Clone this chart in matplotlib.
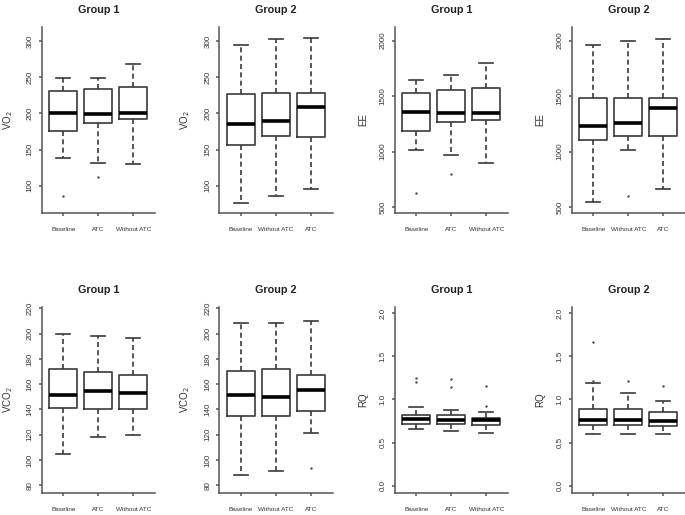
import matplotlib
matplotlib.use("Agg")
import matplotlib.pyplot as plt

plt.rcParams['font.family'] = ['Liberation Sans', 'DejaVu Sans']

# ---------------- data ----------------
cats_g1 = ["Baseline", "ATC", "Without ATC"]
cats_g2 = ["Baseline", "Without ATC", "ATC"]

vo2_g1_lo = [138, 132, 130]
vo2_g1_q1 = [176, 187, 192]
vo2_g1_med = [200, 199, 200]
vo2_g1_q3 = [231, 234, 237]
vo2_g1_hi = [249, 249, 268]
vo2_g1_fl = [[86], [112], []]

vo2_g2_lo = [76, 86, 95]
vo2_g2_q1 = [156, 169, 167]
vo2_g2_med = [186, 190, 209]
vo2_g2_q3 = [227, 228, 228]
vo2_g2_hi = [295, 303, 304]
vo2_g2_fl = [[], [], []]

ee_g1_lo = [1017, 972, 900]
ee_g1_q1 = [1188, 1267, 1288]
ee_g1_med = [1354, 1345, 1345]
ee_g1_q3 = [1531, 1552, 1570]
ee_g1_hi = [1645, 1690, 1802]
ee_g1_fl = [[624], [798], []]

ee_g2_lo = [545, 1017, 663]
ee_g2_q1 = [1101, 1137, 1137]
ee_g2_med = [1231, 1261, 1390]
ee_g2_q3 = [1486, 1486, 1486]
ee_g2_hi = [1958, 2000, 2012]
ee_g2_fl = [[], [599], []]

vco2_g1_lo = [105, 118, 120]
vco2_g1_q1 = [141.5, 140.7, 140.7]
vco2_g1_med = [151.2, 154.6, 153]
vco2_g1_q3 = [172, 169.3, 167.5]
vco2_g1_hi = [200, 198, 196.4]
vco2_g1_fl = [[], [], []]

vco2_g2_lo = [88, 91, 121]
vco2_g2_q1 = [135, 135, 139]
vco2_g2_med = [151.7, 150.1, 155.1]
vco2_g2_q3 = [170, 172, 167.5]
vco2_g2_hi = [208, 208.4, 209.8]
vco2_g2_fl = [[], [], [93.4]]

rq_g1_lo = [0.661, 0.634, 0.607]
rq_g1_q1 = [0.712, 0.712, 0.704]
rq_g1_med = [0.770, 0.758, 0.758]
rq_g1_q3 = [0.824, 0.824, 0.785]
rq_g1_hi = [0.909, 0.882, 0.859]
rq_g1_fl = [[1.246, 1.207], [1.242, 1.145], [1.16, 0.93]]

rq_g2_lo = [0.604, 0.604, 0.604]
rq_g2_q1 = [0.708, 0.704, 0.696]
rq_g2_med = [0.762, 0.762, 0.747]
rq_g2_q3 = [0.894, 0.890, 0.851]
rq_g2_hi = [1.188, 1.072, 0.986]
rq_g2_fl = [[1.663, 1.21], [1.219], [1.157]]

vo2_ticks = [100, 150, 200, 250, 300]
ee_ticks = [500, 1000, 1500, 2000]
vco2_ticks = [80, 100, 120, 140, 160, 180, 200, 220]
rq_ticks = [0.0, 0.5, 1.0, 1.5, 2.0]
rq_tick_labels = ["0.0", "0.5", "1.0", "1.5", "2.0"]

# ---------------- layout ----------------
W, H = 685, 515
fig = plt.figure(figsize=(W / 100, H / 100), dpi=100)
fig.patch.set_facecolor('white')

lefts = [41.5, 219, 394.5, 571.5]
width = 113.5
rows = [(26.7, 213.3), (307, 493)]

panels = [
    (0, 0, "Group 1", "VO$_2$", cats_g1,
     (vo2_g1_lo, vo2_g1_q1, vo2_g1_med, vo2_g1_q3, vo2_g1_hi, vo2_g1_fl),
     vo2_ticks, None, (62, 320)),
    (0, 1, "Group 2", "VO$_2$", cats_g2,
     (vo2_g2_lo, vo2_g2_q1, vo2_g2_med, vo2_g2_q3, vo2_g2_hi, vo2_g2_fl),
     vo2_ticks, None, (62, 320)),
    (0, 2, "Group 1", "EE", cats_g1,
     (ee_g1_lo, ee_g1_q1, ee_g1_med, ee_g1_q3, ee_g1_hi, ee_g1_fl),
     ee_ticks, None, (443, 2126)),
    (0, 3, "Group 2", "EE", cats_g2,
     (ee_g2_lo, ee_g2_q1, ee_g2_med, ee_g2_q3, ee_g2_hi, ee_g2_fl),
     ee_ticks, None, (443, 2126)),
    (1, 0, "Group 1", "VCO$_2$", cats_g1,
     (vco2_g1_lo, vco2_g1_q1, vco2_g1_med, vco2_g1_q3, vco2_g1_hi, vco2_g1_fl),
     vco2_ticks, None, (73.9, 221)),
    (1, 1, "Group 2", "VCO$_2$", cats_g2,
     (vco2_g2_lo, vco2_g2_q1, vco2_g2_med, vco2_g2_q3, vco2_g2_hi, vco2_g2_fl),
     vco2_ticks, None, (73.9, 221)),
    (1, 2, "Group 1", "RQ", cats_g1,
     (rq_g1_lo, rq_g1_q1, rq_g1_med, rq_g1_q3, rq_g1_hi, rq_g1_fl),
     rq_ticks, rq_tick_labels, (-0.085, 2.073)),
    (1, 3, "Group 2", "RQ", cats_g2,
     (rq_g2_lo, rq_g2_q1, rq_g2_med, rq_g2_q3, rq_g2_hi, rq_g2_fl),
     rq_ticks, rq_tick_labels, (-0.085, 2.073)),
]

line_col = '#3a3a3a'
axis_col = '#555555'

for (r, c, title, ylab, cats, st, ticks, tlabels, ylim) in panels:
    top, bot = rows[r]
    ax = fig.add_axes([lefts[c] / W, 1 - bot / H, width / W, (bot - top) / H])
    lo, q1, med, q3, hi, fl = st
    stats = []
    for i in range(len(cats)):
        stats.append(dict(whislo=lo[i], q1=q1[i], med=med[i], q3=q3[i],
                          whishi=hi[i], fliers=fl[i], label=cats[i]))
    ax.bxp(stats, positions=[1, 2, 3], widths=0.8, capwidths=0.4,
           showfliers=True,
           boxprops=dict(color=line_col, linewidth=1.2),
           medianprops=dict(color='black', linewidth=2.6, solid_capstyle='butt'),
           whiskerprops=dict(color=line_col, linewidth=1.2, linestyle=(0, (3, 2))),
           capprops=dict(color=line_col, linewidth=1.2),
           flierprops=dict(marker='o', markersize=1.8, markerfacecolor='#555555',
                           markeredgecolor='none'))
    ax.set_xlim(0.38, 3.62)
    ax.set_ylim(*ylim)
    ax.set_yticks(ticks)
    if tlabels is not None:
        ax.set_yticklabels(tlabels)
    for s in ['top', 'right']:
        ax.spines[s].set_visible(False)
    for s in ['left', 'bottom']:
        ax.spines[s].set_color(axis_col)
        ax.spines[s].set_linewidth(1.1)
    ax.tick_params(axis='both', colors=axis_col, length=2.5, width=1.1)
    ax.tick_params(axis='x', labelsize=4.6, pad=7.5, labelcolor='#333333')
    ax.tick_params(axis='y', labelsize=5.8, pad=3.0, labelcolor='#333333')
    for lab in ax.get_yticklabels():
        lab.set_rotation(90)
        lab.set_va('center')
        lab.set_ha('right')
    ax.set_ylabel(ylab, fontsize=7.0, color='#333333')
    ax.yaxis.set_label_coords(-0.235, 0.5)
    ax.set_title(title, fontsize=7.8, fontweight='bold', color='#222222', pad=10)

fig.savefig("out.png", dpi=100, facecolor='white')
